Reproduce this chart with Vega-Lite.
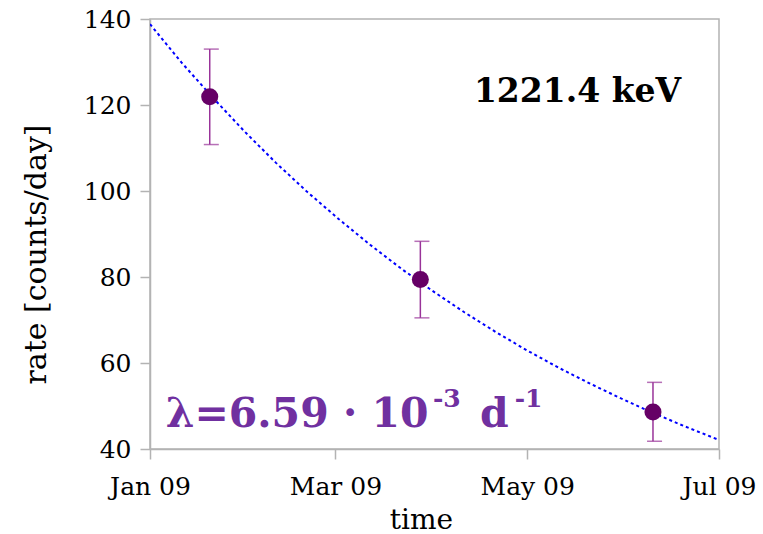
{
  "$schema": "https://vega.github.io/schema/vega-lite/v6.json",
  "autosize": "none",
  "width": 569,
  "height": 430,
  "padding": {"left": 150, "top": 19, "right": 44, "bottom": 85},
  "config": {
    "view": {"stroke": "#b3b3b3", "strokeWidth": 1.5},
    "font": "DejaVu Serif",
    "axis": {"grid": false, "labelFlush": false, "domainColor": "#b3b3b3", "tickColor": "#b3b3b3", "tickSize": 10, "domainWidth": 1.5, "tickWidth": 1.5, "labelFont": "DejaVu Serif", "titleFont": "DejaVu Serif", "labelColor": "#000", "titleColor": "#000", "labelFontSize": 25, "titleFontWeight": "normal"}
  },
  "datasets": {
    "points": [
      {"date": "2009-01-20", "rate": 121.9, "lo": 110.8, "hi": 133.0},
      {"date": "2009-03-28", "rate": 79.4, "lo": 70.5, "hi": 88.3},
      {"date": "2009-06-10", "rate": 48.6, "lo": 41.8, "hi": 55.5}
    ],
    "fit": [
      {"date": "2009-01-01", "rate": 138.8},
      {"date": "2009-01-11", "rate": 129.9},
      {"date": "2009-01-21", "rate": 121.7},
      {"date": "2009-01-31", "rate": 113.9},
      {"date": "2009-02-10", "rate": 106.6},
      {"date": "2009-02-20", "rate": 99.8},
      {"date": "2009-03-02", "rate": 93.5},
      {"date": "2009-03-12", "rate": 87.5},
      {"date": "2009-03-22", "rate": 81.9},
      {"date": "2009-04-01", "rate": 76.7},
      {"date": "2009-04-11", "rate": 71.8},
      {"date": "2009-04-21", "rate": 67.2},
      {"date": "2009-05-01", "rate": 62.9},
      {"date": "2009-05-11", "rate": 58.9},
      {"date": "2009-05-21", "rate": 55.2},
      {"date": "2009-05-31", "rate": 51.7},
      {"date": "2009-06-10", "rate": 48.4},
      {"date": "2009-06-20", "rate": 45.3},
      {"date": "2009-07-01", "rate": 42.1}
    ],
    "labels": [
      {"date": "2009-05-17", "rate": 120.7, "text": "1221.4 keV", "kind": "energy"},
      {"date": "2009-01-06", "rate": 45.1, "text": "λ=6.59 · 10", "kind": "main"},
      {"date": "2009-04-01", "rate": 49.8, "text": "-3", "kind": "sup"},
      {"date": "2009-04-16", "rate": 45.1, "text": "d", "kind": "main"},
      {"date": "2009-04-27", "rate": 49.8, "text": "-1", "kind": "sup"}
    ]
  },
  "layer": [
    {
      "data": {"name": "fit"},
      "mark": {"type": "line", "color": "#0000ff", "strokeDash": [3, 3], "strokeWidth": 2, "clip": true},
      "encoding": {
        "x": {"field": "date", "type": "temporal", "timeUnit": "utcyearmonthdate",
              "scale": {"type": "utc", "domain": [{"year": 2009, "month": 1, "date": 1, "utc": true}, {"year": 2009, "month": 7, "date": 1, "utc": true}]},
              "axis": {"title": "time", "format": "%b %y", "formatType": "time", "tickCount": {"interval": "month", "step": 2}, "labelPadding": 15, "titleFontSize": 28, "titleBaseline": "alphabetic", "titleX": 271, "titleY": 79, "titleAnchor": "middle"},
              "title": "time"},
        "y": {"field": "rate", "type": "quantitative", "scale": {"domain": [40, 140], "nice": false, "zero": false},
              "title": "rate [counts/day]",
              "axis": {"title": "rate [counts/day]", "values": [40, 60, 80, 100, 120, 140], "labelPadding": 9, "titleFontSize": 30, "titleBaseline": "alphabetic", "titleX": -105, "titleY": 235, "titleAnchor": "middle"}}
      }
    },
    {
      "data": {"name": "points"},
      "mark": {"type": "rule", "color": "#993399", "strokeWidth": 1.5},
      "encoding": {
        "x": {"field": "date", "type": "temporal", "timeUnit": "utcyearmonthdate"},
        "y": {"field": "lo", "type": "quantitative"},
        "y2": {"field": "hi"}
      }
    },
    {
      "data": {"name": "points"},
      "mark": {"type": "tick", "orient": "horizontal", "color": "#993399", "size": 15, "thickness": 1.5},
      "encoding": {
        "x": {"field": "date", "type": "temporal", "timeUnit": "utcyearmonthdate"},
        "y": {"field": "lo", "type": "quantitative"}
      }
    },
    {
      "data": {"name": "points"},
      "mark": {"type": "tick", "orient": "horizontal", "color": "#993399", "size": 15, "thickness": 1.5},
      "encoding": {
        "x": {"field": "date", "type": "temporal", "timeUnit": "utcyearmonthdate"},
        "y": {"field": "hi", "type": "quantitative"}
      }
    },
    {
      "data": {"name": "points"},
      "mark": {"type": "point", "filled": true, "shape": "circle", "color": "#660066", "opacity": 1, "size": 290},
      "encoding": {
        "x": {"field": "date", "type": "temporal", "timeUnit": "utcyearmonthdate"},
        "y": {"field": "rate", "type": "quantitative"}
      }
    },
    {
      "data": {"name": "labels"},
      "transform": [{"filter": "datum.kind === 'energy'"}],
      "mark": {"type": "text", "font": "DejaVu Serif", "fontWeight": "bold", "fontSize": 33, "color": "#000", "align": "center", "baseline": "alphabetic"},
      "encoding": {
        "x": {"field": "date", "type": "temporal", "timeUnit": "utcyearmonthdate"},
        "y": {"field": "rate", "type": "quantitative"},
        "text": {"field": "text"}
      }
    },
    {
      "data": {"name": "labels"},
      "transform": [{"filter": "datum.kind === 'main'"}],
      "mark": {"type": "text", "font": "DejaVu Serif", "fontWeight": "bold", "fontSize": 41, "color": "#7030a0", "align": "left", "baseline": "alphabetic"},
      "encoding": {
        "x": {"field": "date", "type": "temporal", "timeUnit": "utcyearmonthdate"},
        "y": {"field": "rate", "type": "quantitative"},
        "text": {"field": "text"}
      }
    },
    {
      "data": {"name": "labels"},
      "transform": [{"filter": "datum.kind === 'sup'"}],
      "mark": {"type": "text", "font": "DejaVu Serif", "fontWeight": "bold", "fontSize": 25, "color": "#7030a0", "align": "left", "baseline": "alphabetic"},
      "encoding": {
        "x": {"field": "date", "type": "temporal", "timeUnit": "utcyearmonthdate"},
        "y": {"field": "rate", "type": "quantitative"},
        "text": {"field": "text"}
      }
    }
  ]
}
